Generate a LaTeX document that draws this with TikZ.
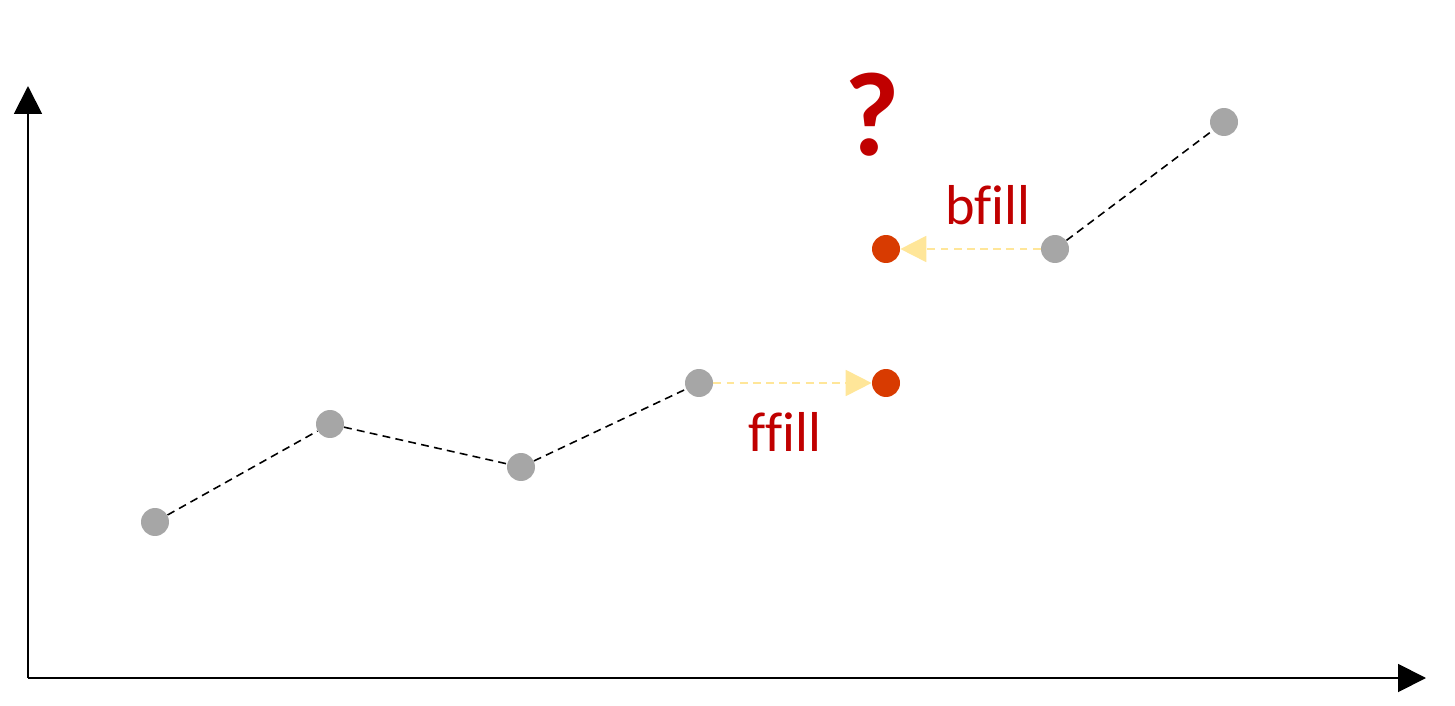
\documentclass[tikz,border=0pt]{standalone}
\usepackage{fontspec}
\setmainfont{Carlito}[Ligatures=CommonOff]
\usetikzlibrary{arrows.meta}
\definecolor{dotgray}{HTML}{A6A6A6}
\definecolor{dotorange}{HTML}{D83B01}
\definecolor{txtred}{HTML}{C00000}
\definecolor{fillyellow}{HTML}{FFE699}
\tikzset{
  gdot/.style={circle,fill=dotgray,draw=none,minimum size=0.56cm,inner sep=0pt},
  odot/.style={circle,fill=dotorange,draw=none,minimum size=0.56cm,inner sep=0pt},
  link/.style={draw=black,line width=0.9pt,dash pattern=on 4.5pt off 3pt},
  fillarrow/.style={draw=fillyellow,line width=1.1pt,dash pattern=on 4.5pt off 3pt,
    -{Triangle[length=0.52cm,width=0.52cm,fill=fillyellow]}},
  axis/.style={draw=black,line width=1.1pt,-{Triangle[length=0.56cm,width=0.56cm]}},
  lbl/.style={text=txtred,font=\fontsize{32}{36}\selectfont,inner sep=0pt}
}
\begin{document}
\begin{tikzpicture}[x=0.02cm,y=-0.02cm]
\useasboundingbox (0,0) rectangle (1455,706);
\coordinate (O) at (28,678);
\coordinate (Y) at (28,86);
\coordinate (X) at (1426,678);
\draw[axis] (O) -- (Y);
\draw[axis] (O) -- (X);
\node[gdot] (p1) at (155,522) {};
\node[gdot] (p2) at (330,424) {};
\node[gdot] (p3) at (521,467) {};
\node[gdot] (p4) at (699,383) {};
\node[gdot] (p5) at (1055,249) {};
\node[gdot] (p6) at (1224,122) {};
\node[odot] (f1) at (886,383) {};
\node[odot] (b1) at (886,249) {};
\draw[link] (p1) -- (p2);
\draw[link] (p2) -- (p3);
\draw[link] (p3) -- (p4);
\draw[link] (p5) -- (p6);
\draw[fillarrow] (p4) -- (f1);
\draw[fillarrow] (p5) -- (b1);
\node[lbl] (ff) at (785,432) {ffill};
\node[lbl] (bf) at (988,205) {bfill};
\node[text=txtred,font=\fontsize{68}{72}\selectfont\bfseries,inner sep=0pt] (q) at (872,115) {?};
\end{tikzpicture}
\end{document}
